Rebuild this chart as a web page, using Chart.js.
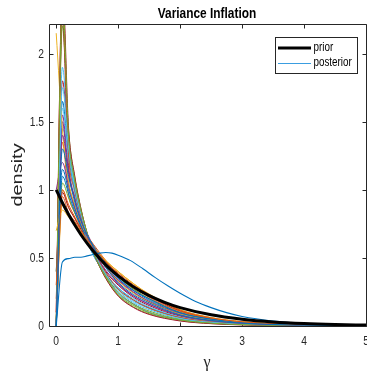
<!DOCTYPE html>
<html>
<head>
<meta charset="utf-8">
<script src="https://cdn.jsdelivr.net/npm/chart.js@4.4.1/dist/chart.umd.min.js"></script>
<style>
  html, body { margin: 0; padding: 0; background: #fff; }
  #wrap { width: 367px; height: 374px; position: relative; }
</style>
</head>
<body>
<div id="wrap"><canvas id="c"></canvas></div>
<script>
// axis ticks
var xTicks = [0, 1, 2, 3, 4, 5];
var yTicks = [0, 0.5, 1, 1.5, 2];

// grid of gamma values the posterior draws were evaluated on
var gammaGrid = [0, 0.1, 0.2, 0.3, 0.4, 0.5, 0.6, 0.8, 1.0, 1.25, 1.5, 2.0, 2.5, 3.0, 4.0, 5.0];

// posterior draws (one density curve per row)
var draws = [
  [0, 1.30, 1.10, 0.91, 0.77, 0.67, 0.58, 0.43, 0.32, 0.23, 0.17, 0.082, 0.041, 0.021, 0.006, 0.002],
  [0.30, 0.95, 0.83, 0.77, 0.70, 0.63, 0.58, 0.47, 0.39, 0.30, 0.23, 0.116, 0.060, 0.031, 0.009, 0.003],
  [0.70, 0.85, 0.80, 0.75, 0.69, 0.63, 0.58, 0.48, 0.40, 0.31, 0.235, 0.12, 0.062, 0.032, 0.009, 0.003],
  [0, 1.40, 1.14, 0.93, 0.78, 0.66, 0.56, 0.41, 0.31, 0.22, 0.16, 0.077, 0.039, 0.020, 0.005, 0.002],
  [0, 2.40, 1.40, 1.07, 0.85, 0.68, 0.54, 0.36, 0.23, 0.15, 0.097, 0.044, 0.021, 0.010, 0.003, 0.001],
  [0, 1.75, 1.31, 1.02, 0.82, 0.67, 0.55, 0.38, 0.26, 0.17, 0.12, 0.055, 0.027, 0.013, 0.004, 0.001],
  [0, 2.50, 1.45, 1.10, 0.86, 0.68, 0.54, 0.35, 0.22, 0.135, 0.085, 0.037, 0.017, 0.008, 0.002, 0.001],
  [0, 1.10, 0.97, 0.84, 0.73, 0.66, 0.59, 0.46, 0.35, 0.26, 0.20, 0.098, 0.050, 0.026, 0.007, 0.003],
  [0.10, 2.45, 1.26, 1.00, 0.81, 0.66, 0.55, 0.39, 0.27, 0.19, 0.13, 0.062, 0.031, 0.015, 0.004, 0.002],
  [2.15, 1.45, 1.06, 0.89, 0.76, 0.65, 0.56, 0.43, 0.33, 0.24, 0.175, 0.087, 0.044, 0.022, 0.006, 0.002],
  [1.00, 1.20, 1.03, 0.87, 0.75, 0.65, 0.57, 0.43, 0.34, 0.25, 0.18, 0.091, 0.046, 0.024, 0.007, 0.002],
  [0, 2.30, 1.35, 1.05, 0.83, 0.67, 0.55, 0.37, 0.25, 0.16, 0.11, 0.050, 0.024, 0.012, 0.003, 0.001],
  [0, 1.60, 1.22, 0.97, 0.78, 0.63, 0.52, 0.38, 0.28, 0.20, 0.14, 0.067, 0.033, 0.017, 0.005, 0.002],
  [0.10, 2.25, 1.18, 0.95, 0.79, 0.66, 0.56, 0.40, 0.30, 0.21, 0.15, 0.072, 0.036, 0.018, 0.005, 0.002],
  [0.40, 1.15, 1.00, 0.86, 0.74, 0.64, 0.57, 0.44, 0.35, 0.26, 0.19, 0.095, 0.048, 0.025, 0.007, 0.002],
  [0, 1.00, 0.89, 0.80, 0.72, 0.66, 0.60, 0.48, 0.38, 0.29, 0.21, 0.108, 0.056, 0.029, 0.008, 0.003],
  [0.05, 0.90, 0.81, 0.76, 0.69, 0.63, 0.58, 0.48, 0.40, 0.31, 0.23, 0.118, 0.061, 0.031, 0.009, 0.003],
  [0, 1.50, 1.05, 0.88, 0.76, 0.65, 0.57, 0.43, 0.335, 0.245, 0.18, 0.089, 0.045, 0.023, 0.006, 0.002],
  [0, 1.05, 0.94, 0.83, 0.73, 0.64, 0.57, 0.45, 0.36, 0.27, 0.20, 0.10, 0.052, 0.027, 0.008, 0.003],
  [0, 1.90, 1.37, 1.06, 0.84, 0.67, 0.55, 0.37, 0.24, 0.16, 0.10, 0.047, 0.022, 0.011, 0.003, 0.001],
  [0, 0.98, 0.87, 0.79, 0.71, 0.64, 0.58, 0.47, 0.38, 0.29, 0.22, 0.111, 0.057, 0.029, 0.008, 0.003],
  [0, 1.65, 1.24, 0.98, 0.79, 0.63, 0.52, 0.38, 0.28, 0.19, 0.135, 0.064, 0.032, 0.016, 0.004, 0.002],
  [0.20, 1.35, 0.96, 0.83, 0.73, 0.64, 0.57, 0.45, 0.36, 0.27, 0.20, 0.10, 0.051, 0.026, 0.007, 0.003],
  [0.40, 1.00, 0.87, 0.79, 0.71, 0.64, 0.58, 0.47, 0.38, 0.29, 0.22, 0.112, 0.057, 0.030, 0.008, 0.003],
  [0, 1.55, 1.13, 0.93, 0.79, 0.68, 0.59, 0.44, 0.31, 0.22, 0.16, 0.079, 0.040, 0.020, 0.006, 0.002],
  [0, 2.20, 1.43, 1.09, 0.86, 0.68, 0.54, 0.35, 0.225, 0.14, 0.09, 0.040, 0.018, 0.009, 0.002, 0.001],
  [0, 1.45, 1.27, 1.00, 0.81, 0.67, 0.55, 0.39, 0.27, 0.18, 0.13, 0.060, 0.030, 0.015, 0.004, 0.002],
  [0, 1.80, 1.37, 1.06, 0.84, 0.67, 0.55, 0.37, 0.24, 0.16, 0.10, 0.047, 0.022, 0.011, 0.003, 0.001]
];

// prior density
var priorGrid = [0, 0.1, 0.2, 0.3, 0.4, 0.5, 0.6, 0.8, 1.0, 1.25, 1.5, 1.75, 2.0, 2.5, 3.0, 3.5, 4.0, 4.5, 5.0];
var priorDensity = [1.0, 0.905, 0.819, 0.741, 0.670, 0.607, 0.549, 0.449, 0.368, 0.287, 0.223, 0.174, 0.135, 0.082, 0.050, 0.030, 0.018, 0.011, 0.007];

// posterior density
var postGrid = [0, 0.1, 0.2, 0.3, 0.4, 0.5, 0.6, 0.7, 0.8, 0.9, 1.0, 1.2, 1.4, 1.6, 1.8, 2.0, 2.25, 2.5, 2.75, 3.0, 3.5, 4.0, 4.5, 5.0];
var postDensity = [0, 0.47, 0.495, 0.505, 0.505, 0.515, 0.525, 0.535, 0.54, 0.535, 0.52, 0.48, 0.42, 0.355, 0.295, 0.24, 0.18, 0.135, 0.098, 0.07, 0.037, 0.02, 0.012, 0.008];

// matlab default line colours
var lineColors = ['#0072BD', '#D95319', '#EDB120', '#7E2F8E', '#77AC30', '#4DBEEE', '#A2142F'];

var SANS = '"Liberation Sans", Arial, sans-serif';
var AXIS_COLOR = '#262626';
var SQUEEZE = 0.82;   // the figure text is narrower than plain Arial

function toPoints(xs, ys) {
  return xs.map(function (x, i) { return { x: x, y: ys[i] }; });
}

// text squeezed horizontally
function narrowText(ctx, txt, x, y, align, baseline) {
  ctx.save();
  ctx.translate(x, y);
  ctx.scale(SQUEEZE, 1);
  ctx.textAlign = align;
  ctx.textBaseline = baseline;
  ctx.fillText(txt, 0, 0);
  ctx.restore();
}

var datasets = [];
datasets.push({
  label: 'prior',
  data: toPoints(priorGrid, priorDensity),
  borderColor: '#000000',
  borderWidth: 3
});
datasets.push({
  label: 'posterior',
  data: toPoints(postGrid, postDensity),
  borderColor: '#0072BD',
  borderWidth: 1.1
});
for (var i = 0; i < draws.length; i++) {
  datasets.push({
    label: 'draw ' + (i + 1),
    data: toPoints(gammaGrid, draws[i]),
    borderColor: lineColors[i % lineColors.length],
    borderWidth: 1
  });
}

// box, inward ticks, tick labels, title, axis labels and legend in matlab style
var matlabLook = {
  id: 'matlabLook',
  beforeDatasetsDraw: function (chart) {
    var ctx = chart.ctx, a = chart.chartArea;
    var xs = chart.scales.x, ys = chart.scales.y;
    var L = a.left - 0.5, R = a.right + 0.5, T = a.top - 0.5, B = a.bottom + 0.5;
    ctx.save();
    ctx.strokeStyle = AXIS_COLOR;
    ctx.lineWidth = 1;
    ctx.beginPath();
    ctx.rect(L, T, R - L, B - T);
    var tl = 4;
    xTicks.forEach(function (v) {
      var px = Math.round(xs.getPixelForValue(v)) + 0.5;
      ctx.moveTo(px, B); ctx.lineTo(px, B - tl);
      ctx.moveTo(px, T); ctx.lineTo(px, T + tl);
    });
    yTicks.forEach(function (v) {
      var py = Math.round(ys.getPixelForValue(v)) + 0.5;
      ctx.moveTo(L, py); ctx.lineTo(L + tl, py);
      ctx.moveTo(R, py); ctx.lineTo(R - tl, py);
    });
    ctx.stroke();

    // tick labels
    ctx.fillStyle = AXIS_COLOR;
    ctx.font = '12.5px ' + SANS;
    xTicks.forEach(function (v) {
      narrowText(ctx, String(v), xs.getPixelForValue(v), 345, 'center', 'alphabetic');
    });
    yTicks.forEach(function (v) {
      narrowText(ctx, String(v), 44, ys.getPixelForValue(v) + 0.5, 'right', 'middle');
    });
    ctx.restore();
  },
  afterDraw: function (chart) {
    var ctx = chart.ctx, a = chart.chartArea;
    ctx.save();
    ctx.fillStyle = '#000';

    // title
    ctx.font = 'bold 14.5px ' + SANS;
    narrowText(ctx, 'Variance Inflation', (a.left + a.right) / 2 - 1, 18, 'center', 'alphabetic');

    // y label
    ctx.save();
    ctx.fillStyle = AXIS_COLOR;
    ctx.translate(17.5, 175);
    ctx.rotate(-Math.PI / 2);
    ctx.scale(1.33, 1);
    ctx.font = '15px ' + SANS;
    ctx.textAlign = 'center';
    ctx.textBaseline = 'middle';
    ctx.fillText('density', 0, 0);
    ctx.restore();

    // x label
    ctx.fillStyle = AXIS_COLOR;
    ctx.font = '16px "Liberation Serif", "Times New Roman", serif';
    ctx.textAlign = 'center';
    ctx.textBaseline = 'alphabetic';
    ctx.fillText('\u03B3', 207, 367);

    // legend
    var lx = 275.5, ly = 37.5, lw = 82, lh = 36;
    ctx.fillStyle = '#fff';
    ctx.fillRect(lx, ly, lw, lh);
    ctx.strokeStyle = AXIS_COLOR;
    ctx.lineWidth = 1;
    ctx.strokeRect(lx, ly, lw, lh);
    ctx.beginPath();
    ctx.strokeStyle = '#000';
    ctx.lineWidth = 3;
    ctx.moveTo(278, 48); ctx.lineTo(311, 48);
    ctx.stroke();
    ctx.beginPath();
    ctx.strokeStyle = '#3a9de0';
    ctx.lineWidth = 1.2;
    ctx.moveTo(278, 63.5); ctx.lineTo(311, 63.5);
    ctx.stroke();
    ctx.fillStyle = '#000';
    ctx.font = '12px ' + SANS;
    narrowText(ctx, 'prior', 313.5, 47.5, 'left', 'middle');
    narrowText(ctx, 'posterior', 313.5, 63, 'left', 'middle');
    ctx.restore();
  }
};

new Chart(document.getElementById('c'), {
  type: 'line',
  data: { datasets: datasets },
  options: {
    responsive: true,
    maintainAspectRatio: false,
    devicePixelRatio: 1,
    animation: false,
    events: [],
    layout: { padding: { top: 25, right: 1, left: 0, bottom: 0 } },
    elements: {
      point: { radius: 0 },
      line: { cubicInterpolationMode: 'monotone', fill: false }
    },
    plugins: {
      legend: { display: false },
      tooltip: { enabled: false },
      title: { display: false }
    },
    scales: {
      x: {
        type: 'linear',
        min: -0.1,
        max: 5,
        grid: { display: false, drawTicks: false },
        border: { display: false },
        ticks: { display: false },
        afterBuildTicks: function (s) { s.ticks = xTicks.map(function (v) { return { value: v }; }); },
        afterFit: function (s) {
          s.height = 48;
          s.paddingLeft = 0; s.paddingRight = 0;
        }
      },
      y: {
        type: 'linear',
        min: 0,
        max: 2.21,
        grid: { display: false, drawTicks: false },
        border: { display: false },
        ticks: { display: false },
        afterBuildTicks: function (s) { s.ticks = yTicks.map(function (v) { return { value: v }; }); },
        afterFit: function (s) {
          s.width = 50;
          s.paddingTop = 0; s.paddingBottom = 0;
        }
      }
    }
  },
  plugins: [matlabLook]
});
</script>
</body>
</html>
